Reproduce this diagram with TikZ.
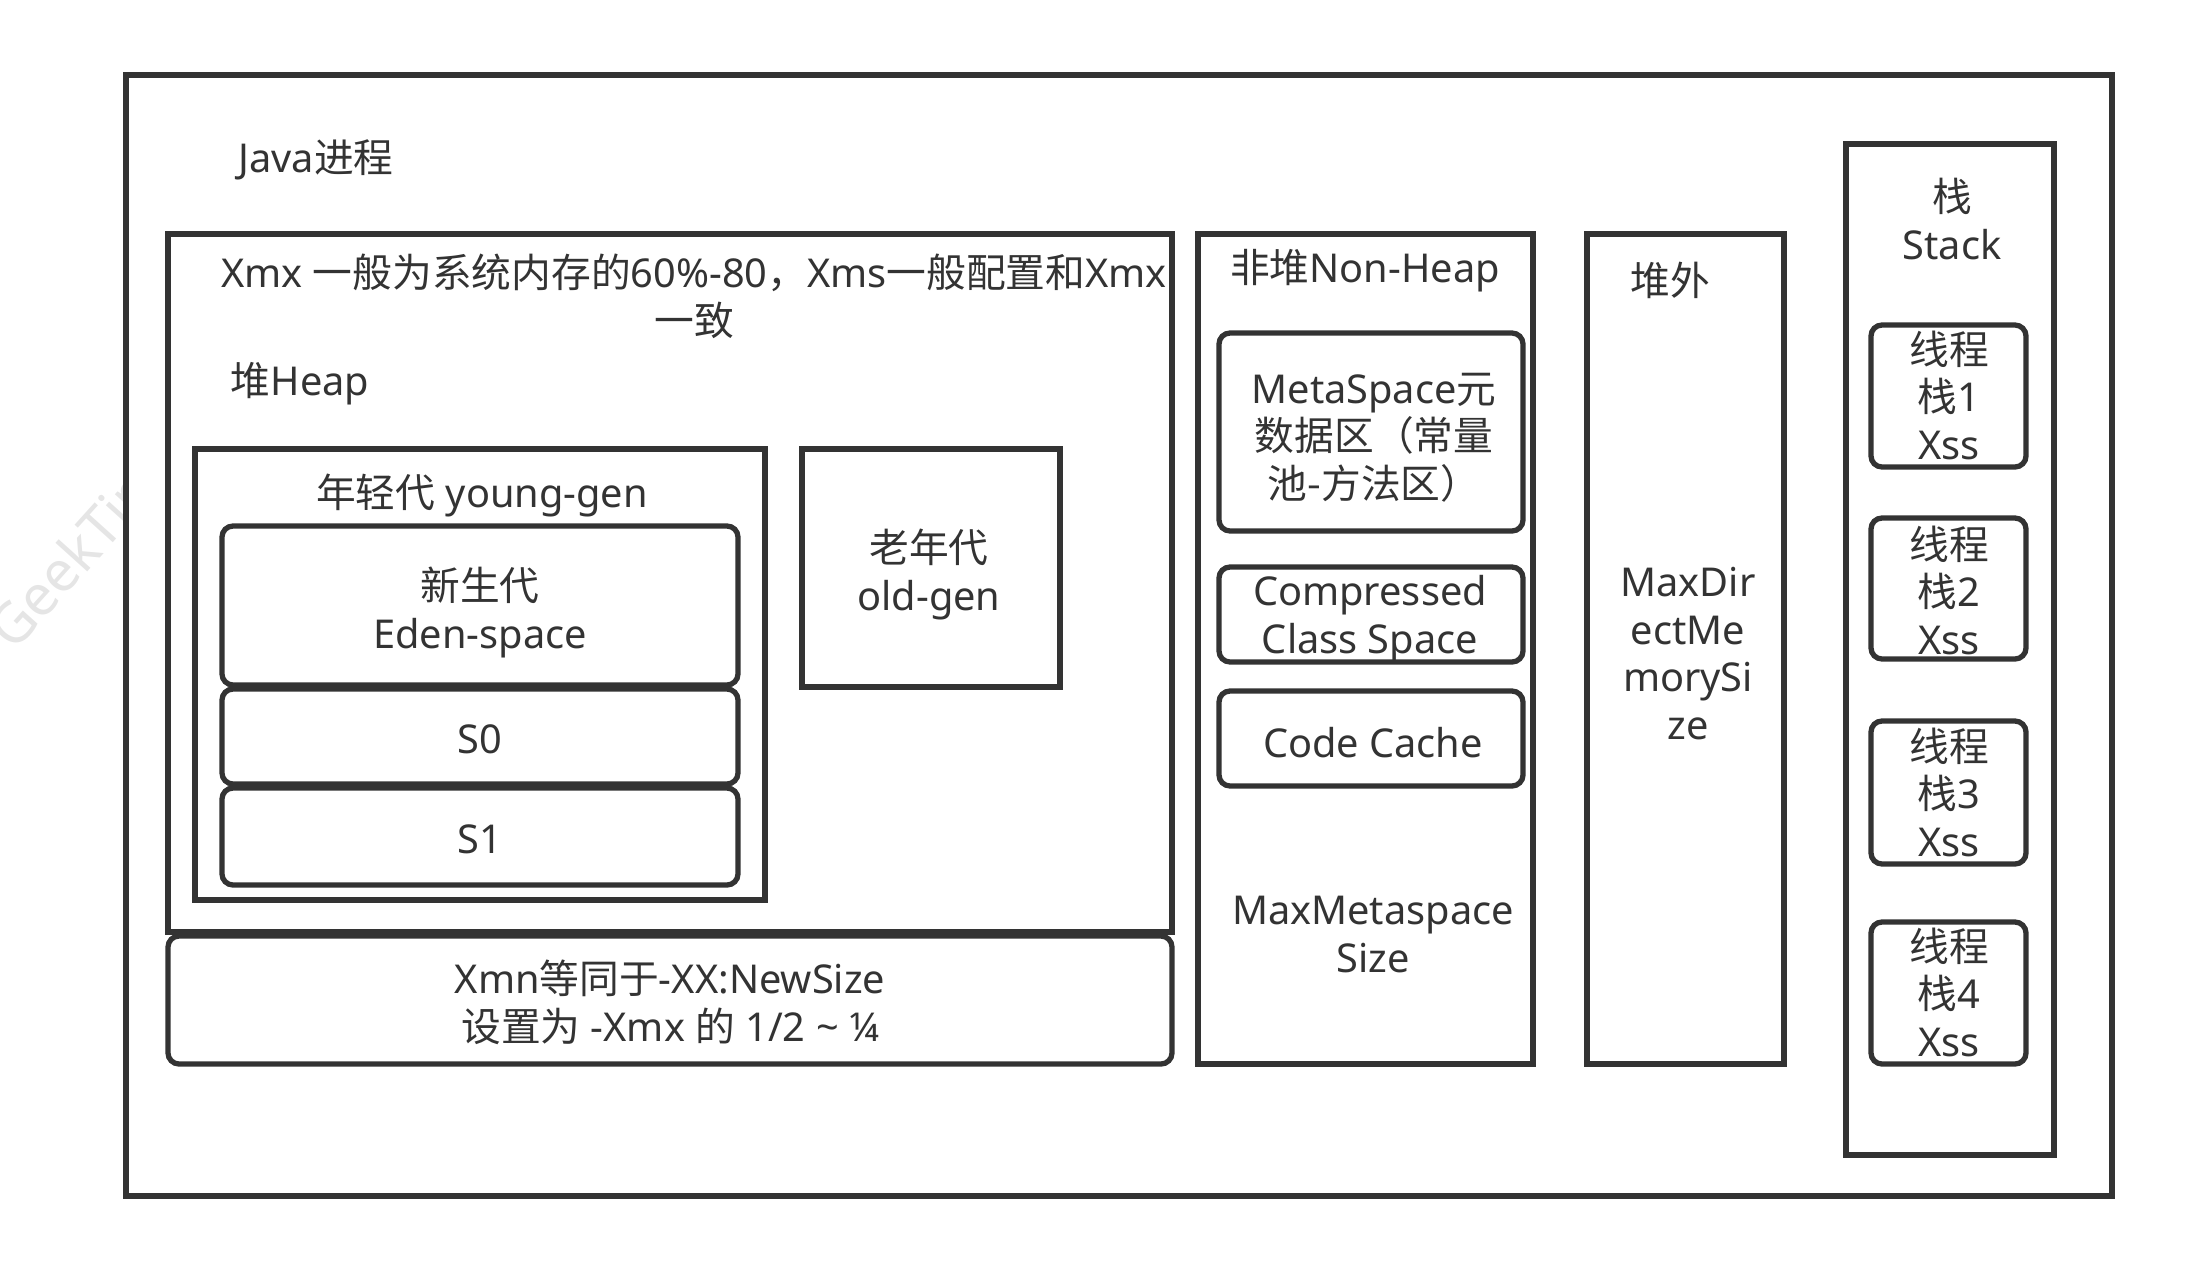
\documentclass[tikz,border=0pt]{standalone}
\usepackage{fontspec}
\setmainfont{Noto Sans}
\newfontfamily\cjkfont{Noto Sans CJK SC}
\newcommand\zh[1]{{\cjkfont #1}}
\definecolor{ink}{HTML}{333333}

\begin{document}
\begin{tikzpicture}[x=0.01cm, y=-0.01cm]
\tikzset{box/.style={draw=ink, line width=1.5pt},
  rbox/.style={box, rounded corners=0.11cm},
  lbl/.style={text=ink, align=center, anchor=base, inner sep=0pt, font=\fontsize{11.3}{13.5}\selectfont},
  wmark/.style={text=black!10, anchor=base west, rotate=48, font=\fontsize{16}{16}\selectfont}}
\useasboundingbox (0,0) rectangle (2187,1272);
\node[wmark] (mark) at (6,662) {GeekTime};
% outer process
\draw[box, fill=white] (126,75) rectangle (2112,1196);
\node[lbl] (proc) at (316,172) {Java\zh{进程}};
% heap
\draw[box] (168,234) rectangle (1172,932);
\draw[rbox] (168,936) rectangle (1172,1064);
\draw[box] (195,449) rectangle (765,900);
\draw[rbox] (222,526) rectangle (738,685);
\draw[rbox] (222,689) rectangle (738,784);
\draw[rbox] (222,788) rectangle (738,885);
\draw[box] (802,449) rectangle (1060,687);
\node[lbl] (heapnote) at (694,335) {Xmx \zh{一般为系统内存的}60\%-80\zh{，}Xms\zh{一般配置和}Xmx\\\zh{一致}};
\node[lbl] (heap) at (300,395) {\zh{堆}Heap};
\node[lbl] (young) at (482,507) {\zh{年轻代} young-gen};
\node[lbl] (eden) at (480,648) {\zh{新生代}\\Eden-space};
\node[lbl] (s0) at (480,753) {S0};
\node[lbl] (s1) at (480,853) {S1};
\node[lbl] (old) at (929,610) {\zh{老年代}\\old-gen};
\node[lbl] (xmn) at (670,1041) {Xmn\zh{等同于}-XX:NewSize\\\zh{设置为} -Xmx \zh{的} 1/2 \textasciitilde{} ¼};
% non-heap
\draw[box] (1198,234) rectangle (1533,1064);
\draw[rbox] (1219,333) rectangle (1523,531);
\draw[rbox] (1219,567) rectangle (1523,662);
\draw[rbox] (1219,691) rectangle (1523,786);
\node[lbl] (nonheap) at (1365,282) {\zh{非堆}Non-Heap};
\node[lbl] (meta) at (1374,498) {MetaSpace\zh{元}\\\zh{数据区（常量}\\\zh{池-方法区）}};
\node[lbl] (ccs) at (1370,653) {Compressed\\Class Space};
\node[lbl] (code) at (1373,757) {Code Cache};
\node[lbl] (maxmeta) at (1373,972) {MaxMetaspace\\Size};
% off-heap
\draw[box] (1587,234) rectangle (1784,1064);
\node[lbl] (offheap) at (1670,295) {\zh{堆外}};
\node[lbl] (maxdirect) at (1688,739) {MaxDir\\ectMe\\morySi\\ze};
% stack
\draw[box] (1846,144) rectangle (2054,1155);
\node[lbl] (stack) at (1952,259) {\zh{栈}\\Stack};
\foreach \i/\t/\b/\y in {1/325/467/459, 2/518/659/654, 3/721/864/856, 4/922/1064/1056} {
  \draw[rbox] (1871,\t) rectangle (2026,\b);
  \node[lbl] (thread\i) at (1949,\y) {\zh{线程}\\\zh{栈}\i\\Xss};
}
\end{tikzpicture}
\end{document}
